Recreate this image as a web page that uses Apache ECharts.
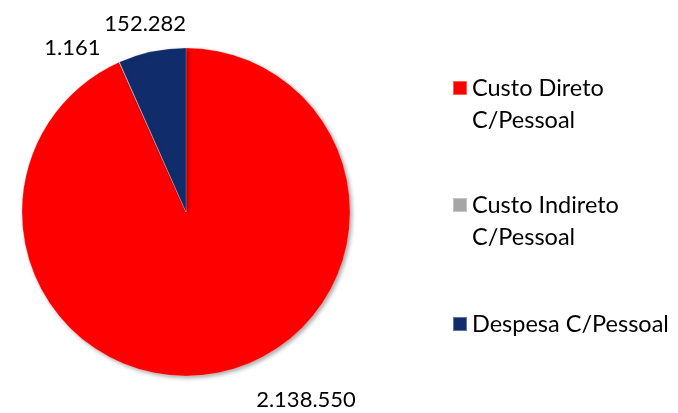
<!DOCTYPE html>
<html>
<head>
<meta charset="utf-8">
<script src="https://cdn.jsdelivr.net/npm/echarts@6/dist/echarts.min.js"></script>
<style>html,body{margin:0;padding:0;background:#fff;}#c{width:678px;height:413px;}</style>
</head>
<body>
<div id="c"></div>
<script>
const categories = ['Custo Direto C/Pessoal', 'Custo Indireto C/Pessoal', 'Despesa C/Pessoal'];
const values = [2138550, 1161, 152282];
const valueLabels = ['2.138.550', '1.161', '152.282'];
const legendLines = [['Custo Direto', 'C/Pessoal'], ['Custo Indireto', 'C/Pessoal'], ['Despesa C/Pessoal']];

const colors = ['#FF0000', '#A6A6A6', '#102C6A'];
const labelOffsets = [[28, 14], [-8, -1], [42, -14]];
const FONT = 'Lato';

const chart = echarts.init(document.getElementById('c'), null, {renderer: 'canvas'});

function legendFor(i, top) {
  const lines = legendLines[i];
  const twoLine = lines.length > 1;
  return {
    orient: 'vertical', left: 452, top: top, padding: 0,
    icon: 'rect', itemWidth: 14, itemHeight: 14, itemGap: 0,
    selectedMode: false,
    data: [categories[i]],
    formatter: function () { return twoLine ? ' \n' + lines.join('\n') : lines[0]; },
    textStyle: {fontFamily: FONT, fontSize: 23.5, color: '#000', lineHeight: 32}
  };
}

chart.setOption({
  animation: false,
  color: colors,
  legend: [legendFor(0, 40), legendFor(1, 157), legendFor(2, 308)],
  series: [{
    type: 'pie',
    center: [186, 212],
    radius: 164,
    startAngle: 90,
    clockwise: true,
    avoidLabelOverlap: false,
    labelLayout: {hideOverlap: false},
    data: categories.map((c, i) => ({
      name: c, value: values[i],
      label: {offset: labelOffsets[i]}
    })),
    itemStyle: {borderWidth: 0.5, borderColor: 'rgba(255,255,255,0.35)', shadowBlur: 4, shadowOffsetX: 2, shadowOffsetY: 2, shadowColor: 'rgba(0,0,0,0.35)'},
    label: {
      show: true, position: 'outside',
      formatter: p => valueLabels[p.dataIndex],
      fontFamily: FONT, fontSize: 22, color: '#000'
    },
    labelLine: {show: false, length: 14, length2: 0}
  }]
});
</script>
</body>
</html>
